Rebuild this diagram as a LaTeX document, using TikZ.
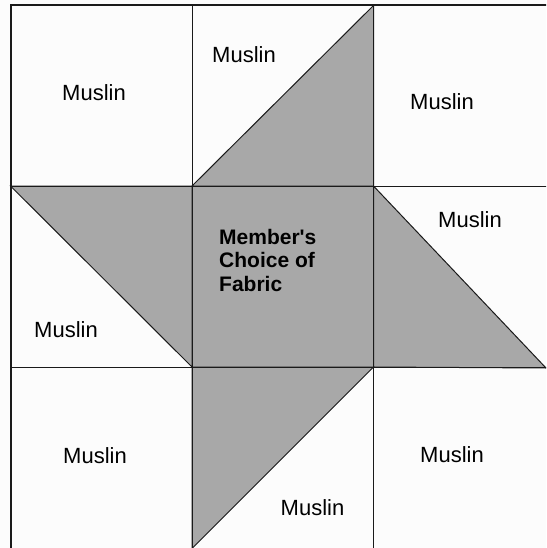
\documentclass[tikz,border=0pt]{standalone}
\usepackage{fontspec}
\setmainfont{Liberation Sans}
\definecolor{patch}{HTML}{A8A8A8}
\definecolor{paper}{HTML}{FCFCFC}
\definecolor{ink}{HTML}{1A1A1A}
\begin{document}
\begin{tikzpicture}[x=1pt,y=-1pt,
  piece/.style={fill=patch,draw=ink,line width=1pt},
  seam/.style={draw=ink,line width=1pt},
  edge/.style={draw=ink,line width=2pt},
  lbl/.style={font=\fontsize{22}{24}\selectfont,inner sep=0pt,anchor=base},
  centrelbl/.style={font=\fontsize{21}{23.5}\selectfont\bfseries,inner sep=0pt,anchor=north west,align=left}]
\useasboundingbox (0,0) rectangle (546,548);
\clip (0,0) rectangle (546,548);
\fill[paper] (0,0) rectangle (546,548);
% shaded pieces
\filldraw[piece] (192,186) -- (373.5,5.5) -- (373.5,186) -- cycle;
\filldraw[piece] (10.5,186) -- (192,186) -- (192,367) -- cycle;
\filldraw[piece] (192,186) rectangle (373.5,367);
\filldraw[piece] (373.5,186) -- (546,368) -- (373.5,367) -- cycle;
\filldraw[piece] (192,367) -- (373.5,367) -- (192,548.5) -- cycle;
% seams
\draw[seam] (192,5.5) -- (192,560);
\draw[seam] (373.5,5.5) -- (373.5,560);
\draw[seam] (10.5,186) -- (560,186);
\draw[seam] (10.5,367) -- (560,367);
% outer edges
\draw[edge] (10.5,560) -- (10.5,5.5) -- (560,5.5);
% labels
\node[lbl] (m1) at (94,100.5) {Muslin};
\node[lbl] (m2) at (244,62.5) {Muslin};
\node[lbl] (m3) at (442,109.5) {Muslin};
\node[lbl] (m4) at (470,227.5) {Muslin};
\node[lbl] (m5) at (66,337.5) {Muslin};
\node[lbl] (m6) at (95,463.5) {Muslin};
\node[lbl] (m7) at (312.5,515.5) {Muslin};
\node[lbl] (m8) at (452,462.5) {Muslin};
\node[centrelbl] (c) at (219,229) {Member\textquotesingle s\\Choice of\\Fabric};
\end{tikzpicture}
\end{document}
